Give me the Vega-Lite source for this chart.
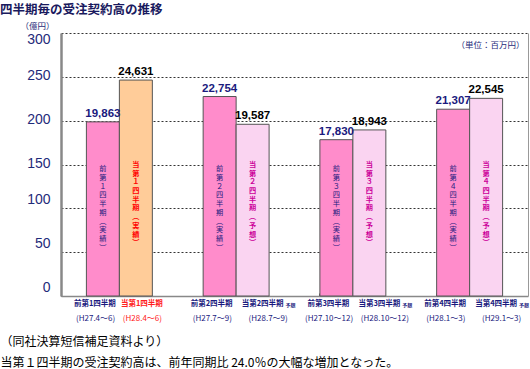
{
  "$schema": "https://vega.github.io/schema/vega-lite/v6.json",
  "width": 467,
  "height": 263,
  "autosize": "none",
  "padding": {"left": 61, "top": 33, "right": 2, "bottom": 73},
  "background": "white",
  "config": {"view": {"stroke": null}, "font": "Noto Sans CJK JP"},
  "title": {"text": "四半期毎の受注契約高の推移", "anchor": "start", "frame": "group", "dx": -61, "offset": 5, "fontSize": 12.5, "fontWeight": "bold", "color": "#1A1A5E", "font": "Noto Sans CJK JP"},
  "data": {"values": [
    {"g": "1", "side": "前", "cat": "前", "value": 19863, "inner": "前|第|１|四|半|期|︵|実|績|︶", "l1": "前第1四半期", "l2": "(H27.4～6)"},
    {"g": "1", "side": "当", "cat": "当実績", "value": 24631, "inner": "当|第|１|四|半|期|︵|実|績|︶", "l1": "当第1四半期", "l2": "(H28.4～6)"},
    {"g": "2", "side": "前", "cat": "前", "value": 22754, "inner": "前|第|２|四|半|期|︵|実|績|︶", "l1": "前第2四半期", "l2": "(H27.7～9)"},
    {"g": "2", "side": "当", "cat": "当予想", "value": 19587, "inner": "当|第|２|四|半|期|︵|予|想|︶", "l1": "当第2四半期", "l2": "(H28.7～9)"},
    {"g": "3", "side": "前", "cat": "前", "value": 17830, "inner": "前|第|３|四|半|期|︵|実|績|︶", "l1": "前第3四半期", "l2": "(H27.10～12)"},
    {"g": "3", "side": "当", "cat": "当予想", "value": 18943, "inner": "当|第|３|四|半|期|︵|予|想|︶", "l1": "当第3四半期", "l2": "(H28.10～12)"},
    {"g": "4", "side": "前", "cat": "前", "value": 21307, "inner": "前|第|４|四|半|期|︵|実|績|︶", "l1": "前第4四半期", "l2": "(H28.1～3)"},
    {"g": "4", "side": "当", "cat": "当予想", "value": 22545, "inner": "当|第|４|四|半|期|︵|予|想|︶", "l1": "当第4四半期", "l2": "(H29.1～3)"}
  ]},
  "resolve": {"axis": {"y": "independent"}},
  "layer": [
    {
      "mark": {"type": "bar", "stroke": "#555555", "strokeWidth": 1},
      "encoding": {
        "x": {"field": "g", "type": "nominal", "scale": {"paddingInner": 0.435, "paddingOuter": 0.2175},
          "axis": {"title": ["（同社決算短信補足資料より）", "当第１四半期の受注契約高は、前年同期比 24.0％の大幅な増加となった。"],
            "labels": false, "domainColor": "#888888", "domainWidth": 1.5, "ticks": true, "tickColor": "#666666", "tickSize": -3, "bandPosition": 0,
            "titleAnchor": "start", "titleAlign": "left", "titleX": -61, "titleY": 40, "titleBaseline": "top",
            "titleFontSize": 12, "titleFontWeight": "normal", "titleColor": "#000000", "titleLineHeight": 21, "titleFont": "Noto Sans CJK JP"}},
        "xOffset": {"field": "side", "type": "nominal", "sort": ["前", "当"], "scale": {"paddingInner": 0, "paddingOuter": 0}},
        "y": {"field": "value", "type": "quantitative", "scale": {"domain": [0, 30000]},
          "axis": {"values": [0, 5000, 10000, 15000, 20000, 25000, 30000], "labelExpr": "datum.value/100",
            "grid": true, "gridDash": [2, 2], "gridColor": "#333333", "gridWidth": 1,
            "domainColor": "#888888", "domainWidth": 2.5, "ticks": false, "labelPadding": 11,
            "labelFontSize": 14, "labelColor": "#1F2B7A", "labelFont": "Liberation Sans",
            "labelOffset": {"condition": [{"test": "datum.value >= 30000", "value": 6}, {"test": "datum.value <= 10000", "value": -9}], "value": -1},
            "title": "（億円）", "titleAngle": 0, "titleX": -24, "titleY": -8, "titleAlign": "center", "titleBaseline": "middle",
            "titleFontSize": 8.5, "titleFontWeight": "normal", "titleColor": "#1F2B7A", "titleFont": "Noto Sans CJK JP"}},
        "fill": {"field": "cat", "type": "nominal", "scale": {"domain": ["前", "当実績", "当予想"], "range": ["#FF8CCB", "#FFCC99", "#FAD4F1"]}, "legend": null}
      }
    },
    {
      "mark": {"type": "text", "baseline": "bottom", "dy": -3, "fontSize": 11.5, "fontWeight": "bold", "font": "Liberation Sans"},
      "encoding": {
        "x": {"field": "g", "type": "nominal"},
        "xOffset": {"field": "side", "type": "nominal", "sort": ["前", "当"]},
        "y": {"field": "value", "type": "quantitative",
          "axis": {"orient": "right", "labels": false, "ticks": false, "grid": false, "domain": true, "domainColor": "#999999", "domainWidth": 1,
            "title": "（単位：百万円）", "titleAngle": 0, "titleX": -38, "titleY": 11, "titleAlign": "center", "titleBaseline": "middle",
            "titleFontSize": 8.5, "titleFontWeight": "normal", "titleColor": "#1F2B7A", "titleFont": "Noto Sans CJK JP"}},
        "text": {"field": "value", "type": "quantitative", "format": ",d"},
        "color": {"condition": {"test": "datum.side === '前'", "value": "#1A1A7E"}, "value": "#000000"}
      }
    },
    {
      "transform": [{"filter": "datum.side === '前'"}],
      "mark": {"type": "text", "lineBreak": "|", "fontSize": 7.2, "lineHeight": 8.7, "baseline": "top", "color": "#1A1A7E", "font": "Noto Sans CJK JP"},
      "encoding": {
        "x": {"field": "g", "type": "nominal"},
        "xOffset": {"field": "side", "type": "nominal", "sort": ["前", "当"]},
        "y": {"datum": 14900, "type": "quantitative", "axis": null},
        "text": {"field": "inner"}
      }
    },
    {
      "transform": [{"filter": "datum.side === '当'"}],
      "mark": {"type": "text", "lineBreak": "|", "fontSize": 7.2, "lineHeight": 8.7, "baseline": "top", "fontWeight": "bold", "font": "Noto Sans CJK JP"},
      "encoding": {
        "x": {"field": "g", "type": "nominal"},
        "xOffset": {"field": "side", "type": "nominal", "sort": ["前", "当"]},
        "y": {"datum": 15400, "type": "quantitative", "axis": null},
        "text": {"field": "inner"},
        "color": {"condition": {"test": "datum.cat === '当実績'", "value": "#FF0000"}, "value": "#CC0099"}
      }
    },
    {
      "transform": [{"filter": "datum.side === '前'"}],
      "mark": {"type": "text", "baseline": "middle", "dy": 8, "dx": -8, "fontSize": 7.5, "fontWeight": "bold", "color": "#1A1A7E", "font": "Noto Sans CJK JP"},
      "encoding": {
        "x": {"field": "g", "type": "nominal"},
        "xOffset": {"field": "side", "type": "nominal", "sort": ["前", "当"]},
        "y": {"datum": 0, "type": "quantitative", "axis": null},
        "text": {"field": "l1"}
      }
    },
    {
      "transform": [{"filter": "datum.cat === '当実績'"}],
      "mark": {"type": "text", "baseline": "middle", "dy": 8, "dx": 6, "fontSize": 7.5, "fontWeight": "bold", "color": "#FF2020", "font": "Noto Sans CJK JP"},
      "encoding": {
        "x": {"field": "g", "type": "nominal"},
        "xOffset": {"field": "side", "type": "nominal", "sort": ["前", "当"]},
        "y": {"datum": 0, "type": "quantitative", "axis": null},
        "text": {"field": "l1"}
      }
    },
    {
      "transform": [{"filter": "datum.cat === '当予想'"}],
      "mark": {"type": "text", "baseline": "middle", "dy": 8, "dx": 10, "fontSize": 7.5, "fontWeight": "bold", "color": "#1A1A7E", "font": "Noto Sans CJK JP"},
      "encoding": {
        "x": {"field": "g", "type": "nominal"},
        "xOffset": {"field": "side", "type": "nominal", "sort": ["前", "当"]},
        "y": {"datum": 0, "type": "quantitative", "axis": null},
        "text": {"field": "l1"}
      }
    },
    {
      "transform": [{"filter": "datum.cat === '当予想'"}],
      "mark": {"type": "text", "baseline": "middle", "align": "left", "dy": 9, "dx": 33, "fontSize": 5, "fontWeight": "bold", "color": "#1A1A7E", "font": "Noto Sans CJK JP"},
      "encoding": {
        "x": {"field": "g", "type": "nominal"},
        "xOffset": {"field": "side", "type": "nominal", "sort": ["前", "当"]},
        "y": {"datum": 0, "type": "quantitative", "axis": null},
        "text": {"value": "予想"}
      }
    },
    {
      "transform": [{"filter": "datum.side === '前'"}],
      "mark": {"type": "text", "baseline": "middle", "dy": 23, "dx": -7.3, "fontSize": 8, "color": "#1A1A7E", "font": "Noto Sans CJK JP"},
      "encoding": {
        "x": {"field": "g", "type": "nominal"},
        "xOffset": {"field": "side", "type": "nominal", "sort": ["前", "当"]},
        "y": {"datum": 0, "type": "quantitative", "axis": null},
        "text": {"field": "l2"}
      }
    },
    {
      "transform": [{"filter": "datum.cat === '当実績'"}],
      "mark": {"type": "text", "baseline": "middle", "dy": 23, "dx": 6.5, "fontSize": 8, "color": "#FF2020", "font": "Noto Sans CJK JP"},
      "encoding": {
        "x": {"field": "g", "type": "nominal"},
        "xOffset": {"field": "side", "type": "nominal", "sort": ["前", "当"]},
        "y": {"datum": 0, "type": "quantitative", "axis": null},
        "text": {"field": "l2"}
      }
    },
    {
      "transform": [{"filter": "datum.cat === '当予想'"}],
      "mark": {"type": "text", "baseline": "middle", "dy": 23, "dx": 15.5, "fontSize": 8, "color": "#1A1A7E", "font": "Noto Sans CJK JP"},
      "encoding": {
        "x": {"field": "g", "type": "nominal"},
        "xOffset": {"field": "side", "type": "nominal", "sort": ["前", "当"]},
        "y": {"datum": 0, "type": "quantitative", "axis": null},
        "text": {"field": "l2"}
      }
    }
  ]
}
